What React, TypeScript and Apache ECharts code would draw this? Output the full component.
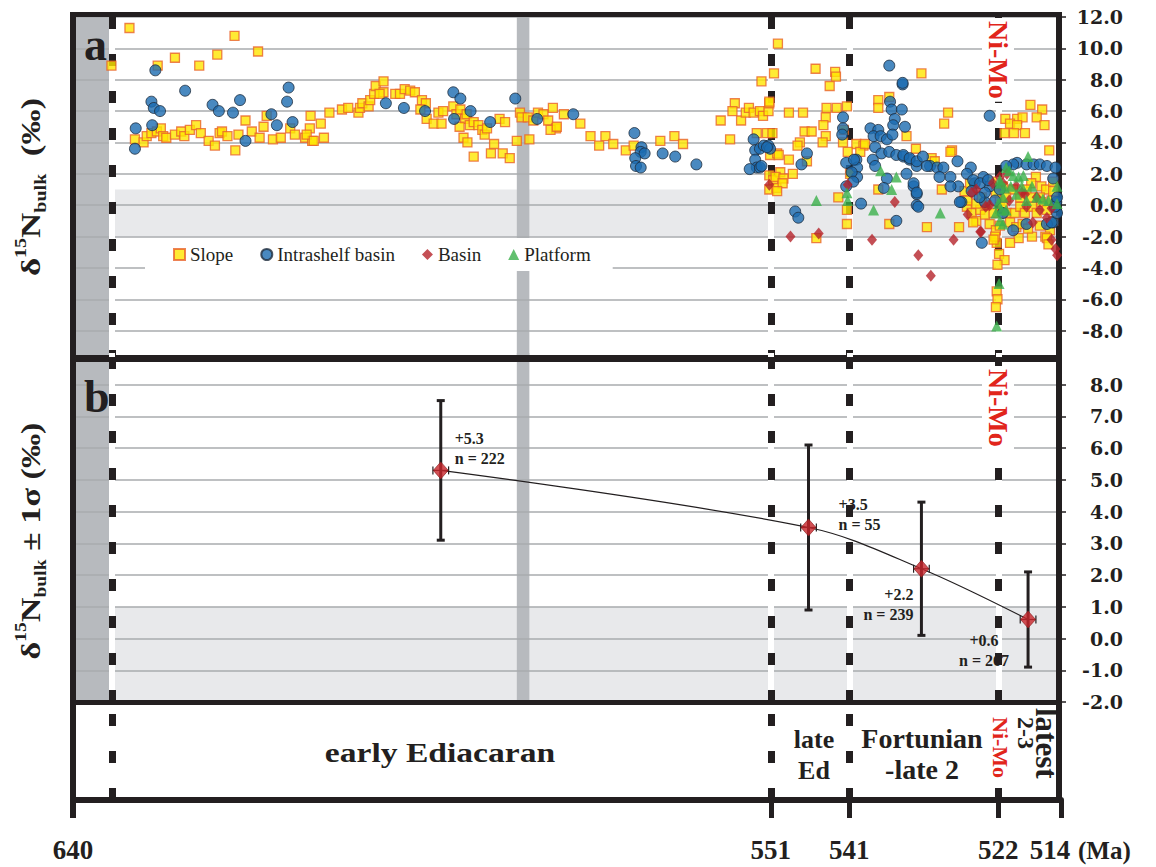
import React, { useEffect, useRef } from 'react';
import * as echarts from 'echarts';

// ---------------- data ----------------
// Panel a: bulk δ15N data, [age (Ma), δ15N (‰)]
const slopeData: [number, number][] = [
  [632.8, 11.3], [635.1, 8.9], [629.2, 8.9], [627.0, 9.4], [623.9, 8.9], [621.6, 9.6], [619.4, 10.8], [616.4, 9.8], [609.7, 5.7],
  [632.1, 4.2], [631.0, 4.0], [630.6, 4.4], [630.0, 4.6], [629.3, 4.7], [628.8, 4.9], [628.5, 4.4], [628.1, 4.3], [627.0, 4.5], [626.2, 4.7],
  [625.8, 4.4], [625.1, 4.8], [624.3, 5.1], [623.7, 4.6], [622.7, 4.1], [621.9, 3.8], [621.3, 4.6], [621.0, 4.7], [620.3, 4.4], [619.3, 3.5],
  [618.9, 4.5], [618.0, 5.4], [617.2, 4.7], [616.2, 4.3], [615.7, 5.0], [615.3, 5.7], [614.5, 4.2], [613.5, 4.3], [612.3, 4.9], [611.7, 4.5],
  [610.4, 4.3], [609.8, 4.9], [609.5, 4.1], [610.2, 4.5], [609.3, 4.1],
  [608.4, 5.2], [608.0, 4.3], [607.3, 5.9], [605.7, 6.1], [604.9, 6.2], [603.6, 5.9], [603.4, 6.2], [603.1, 6.5], [602.3, 6.3], [602.1, 6.7],
  [601.6, 7.1], [601.4, 7.6], [600.4, 7.9], [600.4, 7.2], [600.9, 7.1], [598.9, 7.1], [598.3, 7.1], [597.7, 7.4], [597.0, 7.3], [596.4, 7.2],
  [595.5, 6.7], [595.0, 6.5], [595.7, 6.1], [594.9, 5.5], [594.0, 5.2], [593.4, 5.9], [592.8, 6.0], [593.0, 5.2], [591.5, 6.3], [591.1, 5.8],
  [590.6, 6.1], [590.0, 5.5], [589.8, 5.8], [590.7, 5.0], [589.4, 5.1], [588.9, 5.3], [588.3, 5.1], [587.8, 4.8], [587.5, 4.5], [587.2, 4.9],
  [590.2, 4.3], [589.7, 4.0], [588.9, 3.1], [586.7, 3.3], [586.3, 3.9], [585.6, 5.5], [584.9, 5.3], [585.2, 3.3], [584.3, 3.0], [583.4, 4.1],
  [583.0, 5.9], [582.8, 5.6], [582.0, 5.6], [581.8, 4.2], [581.3, 5.4], [580.7, 5.9], [580.0, 5.8], [579.4, 5.4], [578.8, 6.2], [578.4, 4.9],
  [579.1, 4.8], [578.3, 5.0], [577.4, 5.8], [575.3, 5.2], [574.0, 4.4], [572.9, 3.8], [572.1, 4.4], [571.1, 3.9], [569.5, 3.5], [568.5, 3.8],
  [565.1, 4.1], [563.3, 4.4], [562.2, 3.9],
  [557.4, 5.4], [556.2, 4.2], [555.6, 6.5], [555.9, 6.0], [554.8, 5.4], [554.2, 5.9], [553.8, 6.2], [553.2, 5.9], [552.4, 6.0], [552.0, 5.7],
  [551.3, 6.0], [551.2, 6.5], [552.2, 7.9], [552.8, 4.6], [551.5, 4.6], [550.8, 4.6], [551.1, 3.2], [550.2, 3.3], [551.2, 1.9], [550.7, 1.6],
  [551.2, 1.0], [550.3, 1.1],
  [550.1, 10.3], [550.6, 8.4], [545.3, 8.7], [542.8, 8.5], [542.7, 8.2], [543.5, 7.6], [551.2, 6.6], [548.7, 5.9], [546.9, 5.9], [543.9, 6.2],
  [542.6, 6.2], [541.3, 6.3], [544.0, 5.6], [544.3, 5.1], [546.7, 4.7], [545.8, 4.7], [544.0, 4.4], [544.4, 4.0], [547.3, 4.0], [547.6, 3.8],
  [550.0, 3.2], [548.7, 2.9], [546.4, 2.8], [548.2, 2.0], [549.8, 2.1], [550.4, 1.8], [549.4, 1.7], [549.5, 1.4], [550.2, 0.9],
  [541.7, 4.8], [541.8, 4.0], [540.1, 3.9], [539.2, 3.8], [541.2, 3.4], [539.6, 3.4], [539.0, 3.9], [540.9, 2.0], [542.4, 0.5], [541.3, -0.3],
  [541.3, -1.2], [545.2, -2.1], [537.3, 6.7], [535.9, 6.9], [537.3, 6.2], [533.7, 4.4], [532.5, 3.6], [531.8, 8.4], [537.3, 1.0], [535.9, -1.2],
  [528.4, 5.9], [528.9, 5.2], [527.9, 3.5], [530.5, 3.0], [530.1, 2.8], [529.2, 1.0], [531.1, -1.4], [527.0, -1.4], [528.1, 3.4],
  [521.1, 5.5], [519.6, 5.5], [518.9, 5.6], [520.5, 5.2], [519.6, 5.1], [521.2, 4.6], [520.0, 4.6], [518.6, 4.6], [517.9, 6.4], [516.4, 6.1],
  [517.1, 5.6], [516.1, 5.1], [515.5, 3.5],
  [522.2, -2.4], [521.9, -3.1], [521.2, -3.5], [522.1, -3.8], [522.2, -5.5], [522.1, -6.0], [522.3, -6.5],
  [526.0, -0.1], [525.4, -0.5], [524.8, -1.0], [524.3, -0.3], [523.7, -0.6], [523.1, -1.2], [525.2, -1.1], [525.9, 0.3], [523.5, 0.0], [522.6, -0.5],
  [521.8, 0.3], [521.4, -0.1], [520.9, -0.5], [520.5, -1.1], [519.9, -0.5], [519.2, -0.1], [518.6, -0.5], [517.7, -0.1], [517.1, -0.5], [516.5, 0.2],
  [515.8, -0.3], [515.2, 0.3], [515.0, -1.0], [515.4, -1.6], [516.0, -2.0], [517.7, -2.0], [519.4, -2.1], [520.5, -2.4], [517.2, 1.8], [517.8, 1.4],
  [516.5, 1.2], [515.9, 1.0], [515.0, 0.9], [515.0, 1.5], [518.4, 1.0], [519.2, 0.5], [520.1, 1.0], [521.4, 1.2], [522.3, 0.8], [522.3, -1.6],
  [521.8, -1.3], [522.4, -2.0], [522.6, -2.2], [524.8, 0.1], [524.1, 0.5], [526.3, 0.9], [525.6, 1.4], [519.7, -1.4], [518.9, -1.2], [518.2, -1.5],
  [516.7, -1.3], [515.8, -2.1], [515.6, -2.5], [517.8, 0.5], [516.7, 0.5], [521.0, 0.5], [522.8, 1.5],
];

const intrashelfData: [number, number][] = [
  [629.5, 8.6], [625.7, 7.3], [630.0, 6.6], [629.7, 6.2], [628.9, 6.0], [622.2, 6.4], [621.4, 6.0], [619.6, 5.9], [618.7, 6.7], [612.5, 7.5],
  [612.7, 6.6], [614.7, 5.8], [614.0, 5.1], [612.0, 5.3], [632.0, 4.9], [629.9, 5.1], [632.1, 3.6], [618.0, 4.1],
  [600.1, 6.5], [597.8, 6.2], [595.1, 6.0], [591.5, 7.2], [590.6, 6.8], [589.3, 6.0], [591.4, 5.5], [586.8, 5.3], [583.6, 6.8], [580.8, 5.5],
  [576.2, 5.8], [568.4, 4.6], [567.5, 3.7], [567.6, 3.4], [567.1, 3.3], [568.3, 3.0], [568.2, 2.5], [567.6, 2.4], [564.8, 3.3], [563.2, 3.1],
  [560.5, 2.6], [553.2, 4.2], [553.0, 3.5], [552.4, 3.6], [551.9, 3.8], [551.3, 3.8], [551.1, 3.6], [553.0, 2.9], [552.8, 2.4], [553.7, 2.3],
  [552.4, 2.4],
  [535.9, 8.9], [534.2, 7.7], [535.8, 6.6], [535.6, 6.1], [534.3, 6.1], [535.2, 5.5], [535.4, 5.1], [533.9, 5.0], [538.3, 4.9], [537.3, 4.8],
  [537.9, 4.4], [537.0, 4.4], [536.2, 4.2], [535.5, 4.5], [537.7, 3.7], [536.9, 3.3], [535.9, 3.4], [535.0, 3.2], [534.1, 3.1], [533.3, 2.9],
  [532.4, 2.5], [538.0, 2.9], [537.7, 2.5], [536.2, 1.7], [536.6, 1.1], [533.7, 2.0], [532.8, 1.2], [532.4, 0.7], [532.4, 0.0], [535.0, -1.0],
  [541.8, 5.6], [541.8, 4.9], [541.9, 4.5], [540.1, 2.9], [540.0, 2.4], [540.0, 1.8], [541.4, 2.7], [540.7, 2.1], [540.5, 1.5], [541.4, 1.2],
  [540.4, 2.9], [539.5, 0.1], [546.4, 3.3], [547.1, 2.6], [547.9, -0.4], [547.5, -0.8], [551.5, 3.7], [552.2, 2.5],
  [534.2, 7.8], [523.1, 5.7], [532.2, -0.1], [524.1, -2.4], [520.1, -1.6], [518.4, -1.2],
  [534.1, 3.2], [533.3, 3.0], [532.4, 2.8], [531.6, 3.1], [530.7, 2.5], [529.8, 2.4], [529.0, 2.4], [528.1, 1.8], [527.2, 2.8], [527.1, 1.2],
  [526.7, 0.2], [525.5, 2.4], [525.0, 1.4], [523.9, 1.8], [523.7, 0.2], [523.1, 1.2], [528.1, 1.2], [532.8, 1.4], [532.4, 0.8], [529.5, 1.8],
  [526.0, 2.0], [531.1, 2.5],
  [519.6, 2.7], [518.4, 2.6], [517.5, 2.6], [516.7, 2.6], [515.8, 2.5], [514.7, 2.4], [520.1, 2.6], [521.0, 2.5], [515.0, 1.7], [514.6, 0.2],
  [515.0, -1.1],
  [521.4, -0.5], [515.8, -1.2], [515.2, -1.1], [514.5, -0.5], [514.8, -0.1], [514.5, 0.5], [521.8, 1.0], [522.4, 0.3], [523.7, 0.8], [524.4, 0.5],
  [525.4, 0.9], [525.2, 1.6], [524.3, 1.4], [523.3, 1.6], [526.9, 0.2],
];

const basinData: [number, number][] = [
  [551.2, 1.3], [548.5, -2.0], [544.9, -1.8], [541.2, 1.3], [538.1, -2.2], [535.2, 0.2], [532.2, -3.2], [530.6, -4.5], [527.7, -2.2], [524.2, -1.7],
  [525.4, 0.8], [524.8, 1.0], [523.1, 0.0], [521.8, 1.8], [521.4, 1.4], [519.7, 1.2], [518.6, 0.7], [517.1, 0.5], [517.6, -1.1], [515.8, -0.8],
  [515.2, -2.2], [514.7, -2.8], [514.5, -3.2], [525.9, -0.6], [524.3, -1.7], [520.6, 0.3], [518.4, -0.1], [516.7, -0.3], [515.2, -0.2], [522.7, 1.4],
  [520.9, 2.0], [523.6, -0.1], [519.0, 0.8],
];

const platformData: [number, number][] = [
  [545.2, 0.3], [541.3, 0.8], [541.2, 0.3], [537.9, -0.3], [537.0, 2.2], [535.0, 1.8], [535.6, 1.0], [529.4, -0.5],
  [521.9, -5.0], [522.2, -7.7],
  [518.2, 3.1], [521.0, 2.4], [520.1, 1.9], [519.4, 1.8], [518.8, 1.9], [521.8, 1.4], [521.2, 1.1], [520.4, 1.2], [519.7, 0.7], [517.7, 1.2],
  [517.1, 0.5], [516.3, 0.4], [515.6, 0.3], [514.5, 1.2], [514.5, 0.1], [521.4, 0.5], [522.0, 0.1], [521.6, -0.3], [522.3, -0.5], [521.8, -1.0],
  [521.4, -1.2], [521.0, -0.3], [519.0, 1.2], [518.4, 0.3], [521.8, 1.6], [520.6, 2.2],
];

// Panel b: interval means ± 1σ
const intervalAges = [593.1, 546.2, 531.8, 518.2];
const intervalMeans = [5.3, 3.5, 2.2, 0.6];
const intervalSigmas = [2.2, 2.6, 2.1, 1.5];
const intervalN = [222, 55, 239, 267];
const ageUncertainty = 1.0;

// boundaries, ticks and labels
const xTickValues = [640, 551, 541, 522, 514];
const boundaryAges = [635, 551, 541, 522];
const darkColumn = [640, 635];
const gaskiersBar = [583.4, 581.8];
const bandRange = [-2, 1];
const aTickValues = [12, 10, 8, 6, 4, 2, 0, -2, -4, -6, -8];
const bTickValues = [8, 7, 6, 5, 4, 3, 2, 1, 0, -1, -2];
const legendNames = ['Slope', 'Intrashelf basin', 'Basin', 'Platform'];

// ---------------- layout & style ----------------
const W = 1156, H = 867;
const PLOT_L = 73, PLOT_R = 1061;
const A_TOP = 17, A_BOT = 362;
const B_TOP = 353, B_BOT = 702;
const C_TOP = 705, C_BOT = 800;
const DARK = '#231f20';
const GRIDLINE = '#a9abae';
const BAND = '#e8e9eb';
const COLUMN = '#b7babe';
const RED = '#e1251b';
const SERIF = "'Liberation Serif', 'Times New Roman', serif";
const SERIF_WIDE = "'DejaVu Serif', serif";

// label offsets for panel b annotations (pixel offsets from each point)
const annOffsets = [
  { dx: 14, dy: -22, align: 'left' },
  { dx: 30, dy: -13, align: 'left' },
  { dx: -8, dy: 36, align: 'right' },
  { dx: -44, dy: 31, align: 'center' },
];

function buildOption(): any {
  const gridBox = (top: number, bot: number) => ({ left: PLOT_L, right: W - PLOT_R, top, height: bot - top });

  const xAxisBase = { type: 'value', min: 514, max: 640, inverse: true, splitLine: { show: false } };

  const decor = (gi: number, withBand: boolean) => {
    const s: any[] = [];
    if (withBand) {
      s.push({
        type: 'line', xAxisIndex: gi, yAxisIndex: gi, data: [], z: 1, silent: true,
        markArea: { silent: true, label: { show: false }, itemStyle: { color: BAND }, data: [[{ yAxis: bandRange[0] }, { yAxis: bandRange[1] }]] },
      });
      s.push({
        type: 'line', xAxisIndex: gi, yAxisIndex: gi, data: [], z: 2, silent: true,
        markLine: { silent: true, symbol: ['none', 'none'], label: { show: false }, lineStyle: { color: '#ffffff', width: 6, type: 'solid' }, data: boundaryAges.map((a) => ({ xAxis: a })) },
      });
      s.push({
        type: 'line', xAxisIndex: gi, yAxisIndex: gi, data: [], z: 4, silent: true,
        markArea: {
          silent: true, label: { show: false }, itemStyle: { color: COLUMN },
          data: [
            [{ xAxis: darkColumn[0] }, { xAxis: darkColumn[1] }],
            [{ xAxis: gaskiersBar[0] }, { xAxis: gaskiersBar[1] }],
          ],
        },
      });
    }
    s.push({
      type: 'line', xAxisIndex: gi, yAxisIndex: gi, data: [], z: 4, silent: true,
      markLine: { silent: true, symbol: ['none', 'none'], label: { show: false }, lineStyle: { color: DARK, width: 7, type: [12, 25], cap: 'butt' }, data: boundaryAges.map((a) => ({ xAxis: a })) },
    });
    return s;
  };

  const scatterA = (name: string, data: [number, number][], symbol: string, size: any, itemStyle: any) => ({
    name, type: 'scatter', xAxisIndex: 0, yAxisIndex: 0, data, symbol, symbolSize: size, itemStyle, z: 5, silent: true,
  });

  const bData = intervalAges.map((a, i) => [a, intervalMeans[i], intervalSigmas[i], intervalN[i]]);

  const yLabel = (ticks: number[]) => ({
    customValues: ticks, formatter: (v: number) => v.toFixed(1), align: 'right', margin: 62,
    fontFamily: SERIF_WIDE, fontWeight: 'bold', fontSize: 19, color: DARK,
  });

  const frame = (x1: number, y1: number, x2: number, y2: number, w: number) => ({
    type: 'line', z: 4.5, silent: true, shape: { x1, y1, x2, y2 }, style: { stroke: DARK, lineWidth: w },
  });

  const titleRich = (size: number) => ({
    m: { fontFamily: SERIF, fontWeight: 'bold', fontSize: size, fill: DARK, lineHeight: 36 },
    s: { fontFamily: SERIF, fontWeight: 'bold', fontSize: 16, fill: DARK, verticalAlign: 'top', lineHeight: 16 },
    b: { fontFamily: SERIF, fontWeight: 'bold', fontSize: 16, fill: DARK, verticalAlign: 'bottom', lineHeight: 16 },
  });

  const vText = (text: string, x: number, y: number, size: number, color: string, bg: boolean, extra: any = {}) => ({
    type: 'text', x, y, rotation: -Math.PI / 2, z: 10, silent: true,
    style: {
      text, fill: color, fontFamily: SERIF, fontWeight: 'bold', fontSize: size, align: 'left', verticalAlign: 'middle',
      backgroundColor: bg ? '#ffffff' : undefined, padding: bg ? [2, 3] : 0, ...extra,
    },
  });

  const hText = (text: string, x: number, y: number, size: number, extra: any = {}) => ({
    type: 'text', x, y, z: 10, silent: true, ...extra.el,
    style: { text, fill: DARK, fontFamily: SERIF, fontWeight: 'bold', fontSize: size, align: 'center', verticalAlign: 'middle', ...extra.style },
  });

  return {
    animation: false,
    backgroundColor: '#ffffff',
    grid: [gridBox(A_TOP, A_BOT), gridBox(B_TOP, B_BOT), gridBox(C_TOP, C_BOT)],
    xAxis: [
      { ...xAxisBase, gridIndex: 0, show: false },
      { ...xAxisBase, gridIndex: 1, show: false },
      {
        ...xAxisBase, gridIndex: 2,
        axisLine: { show: true, lineStyle: { color: DARK, width: 6 } },
        axisTick: { show: true, customValues: xTickValues, length: 18, inside: false, lineStyle: { color: DARK, width: 5 } },
        axisLabel: {
          show: true, customValues: xTickValues, margin: 36,
          fontFamily: SERIF, fontWeight: 'bold', fontSize: 27, color: DARK,
          formatter: (v: number) => (v === 514 ? '{s|514}' : String(v)),
          rich: { s: { fontFamily: SERIF, fontWeight: 'bold', fontSize: 27, color: DARK, padding: [0, 22, 0, 0] } },
        },
      },
    ],
    yAxis: [
      {
        gridIndex: 0, type: 'value', position: 'right', min: -10, max: 12, interval: 2, z: 3,
        axisLine: { show: false },
        axisTick: { show: true, customValues: aTickValues, length: 5, lineStyle: { color: DARK, width: 1.5 } },
        axisLabel: yLabel(aTickValues),
        splitLine: { show: true, lineStyle: { color: GRIDLINE, width: 1.5 } },
      },
      {
        gridIndex: 1, type: 'value', position: 'right', min: -2, max: 9, interval: 1, z: 3,
        axisLine: { show: false },
        axisTick: { show: true, customValues: bTickValues, length: 5, lineStyle: { color: DARK, width: 1.5 } },
        axisLabel: yLabel(bTickValues),
        splitLine: { show: true, lineStyle: { color: GRIDLINE, width: 1.5 } },
      },
      { gridIndex: 2, type: 'value', min: 0, max: 1, show: false, splitLine: { show: false } },
    ],
    legend: {
      data: legendNames, left: 145, top: 238, orient: 'horizontal',
      itemWidth: 11, itemHeight: 11, itemGap: 27, padding: [7, 22, 7, 28],
      backgroundColor: '#ffffff', selectedMode: false, z: 6,
      textStyle: { fontFamily: SERIF, fontSize: 19, color: DARK },
    },
    series: [
      ...decor(0, true),
      ...decor(1, true),
      ...decor(2, false),
      scatterA('Slope', slopeData, 'rect', 9, { color: '#ffe600', borderColor: '#e8632b', borderWidth: 1.3 }),
      scatterA('Intrashelf basin', intrashelfData, 'circle', 11, { color: '#1b6cb0', borderColor: '#1f2d3d', borderWidth: 1 }),
      scatterA('Basin', basinData, 'diamond', [10, 12], { color: '#b5232b' }),
      scatterA('Platform', platformData, 'triangle', 11, { color: '#3bb04b' }),
      {
        type: 'custom', xAxisIndex: 1, yAxisIndex: 1, z: 5, silent: true, data: bData,
        renderItem: (_p: any, api: any) => {
          const age = api.value(0), m = api.value(1), s = api.value(2);
          const top = api.coord([age, m + s]);
          const bot = api.coord([age, m - s]);
          const l = api.coord([age + ageUncertainty, m]);
          const r = api.coord([age - ageUncertainty, m]);
          const thick = { stroke: DARK, lineWidth: 3 };
          const thin = { stroke: DARK, lineWidth: 1.2 };
          const C = 4;
          return {
            type: 'group',
            children: [
              { type: 'line', shape: { x1: top[0], y1: top[1], x2: bot[0], y2: bot[1] }, style: thick },
              { type: 'line', shape: { x1: top[0] - C, y1: top[1], x2: top[0] + C, y2: top[1] }, style: thick },
              { type: 'line', shape: { x1: bot[0] - C, y1: bot[1], x2: bot[0] + C, y2: bot[1] }, style: thick },
              { type: 'line', shape: { x1: l[0], y1: l[1], x2: r[0], y2: r[1] }, style: thin },
              { type: 'line', shape: { x1: l[0], y1: l[1] - 4, x2: l[0], y2: l[1] + 4 }, style: thin },
              { type: 'line', shape: { x1: r[0], y1: r[1] - 4, x2: r[0], y2: r[1] + 4 }, style: thin },
            ],
          };
        },
      },
      {
        type: 'line', xAxisIndex: 1, yAxisIndex: 1, z: 5, silent: true,
        data: intervalAges.map((a, i) => [a, intervalMeans[i]]),
        smooth: 0.35, symbol: 'none', lineStyle: { color: DARK, width: 1.2 },
      },
      {
        type: 'scatter', xAxisIndex: 1, yAxisIndex: 1, z: 6, silent: true,
        data: intervalAges.map((a, i) => [a, intervalMeans[i]]),
        symbol: 'diamond', symbolSize: [15, 17],
        itemStyle: { color: '#c8242b', borderColor: '#8a1c1c', borderWidth: 0.8 },
      },
      {
        type: 'custom', xAxisIndex: 1, yAxisIndex: 1, z: 7, silent: true, data: bData,
        renderItem: (p: any, api: any) => {
          const i = p.dataIndex;
          const age = api.value(0), m = api.value(1), n = api.value(3);
          const pt = api.coord([age, m]);
          const o = annOffsets[i];
          return {
            type: 'text', x: pt[0] + o.dx, y: pt[1] + o.dy,
            style: {
              text: `+${m.toFixed(1)}\nn = ${n}`, fill: DARK, fontFamily: SERIF, fontWeight: 'bold', fontSize: 16,
              lineHeight: 20, align: o.align, verticalAlign: 'middle',
            },
          };
        },
      },
    ],
    graphic: [
      // frame
      frame(70, 14.5, 1062, 14.5, 5),
      frame(73, 12, 73, 818, 6),
      frame(1059, 12, 1059, 800, 6),
      frame(70, 358.5, 1062, 358.5, 7),
      frame(70, 702.5, 1062, 702.5, 5),
      // panel letters
      hText('a', 84, 44, 46, { style: { align: 'left' } }),
      hText('b', 84, 396, 46, { style: { align: 'left' } }),
      // y titles
      {
        type: 'text', x: 31, y: 187, rotation: Math.PI / 2, scaleX: 1.25, z: 10, silent: true,
        style: { text: '{m|δ}{s|15}{m|N}{b|bulk}{m|  (‰)}', align: 'center', verticalAlign: 'middle', rich: titleRich(28) },
      },
      {
        type: 'text', x: 31, y: 541, rotation: Math.PI / 2, scaleX: 1.22, z: 10, silent: true,
        style: { text: '{m|δ}{s|15}{m|N}{b|bulk}{m| ± 1σ (‰)}', align: 'center', verticalAlign: 'middle', rich: titleRich(28) },
      },
      // Ni-Mo labels
      vText('Ni-Mo', 998, 18, 28, RED, true),
      vText('Ni-Mo', 998, 366, 28, RED, true),
      vText('Ni-Mo', 1000, 714, 22, RED, true),
      vText('latest', 1046, 708, 31, DARK, false),
      vText('2-3', 1026, 717, 24, DARK, false),
      // interval names
      hText('early Ediacaran', 440, 752, 28, { el: { scaleX: 1.2 } }),
      hText('late\nEd', 814, 755, 26, { style: { lineHeight: 31 } }),
      hText('Fortunian\n-late 2', 922, 754, 28, { style: { lineHeight: 31 } }),
      hText('(Ma)', 1078, 850, 25, { style: { align: 'left' } }),
    ],
  };
}

export default function App() {
  const ref = useRef<HTMLDivElement>(null);
  useEffect(() => {
    document.body.style.margin = '0';
    const chart = echarts.init(ref.current as HTMLDivElement, undefined, { renderer: 'svg' });
    chart.setOption(buildOption());
    return () => chart.dispose();
  }, []);
  return <div ref={ref} style={{ width: W, height: H }} />;
}
